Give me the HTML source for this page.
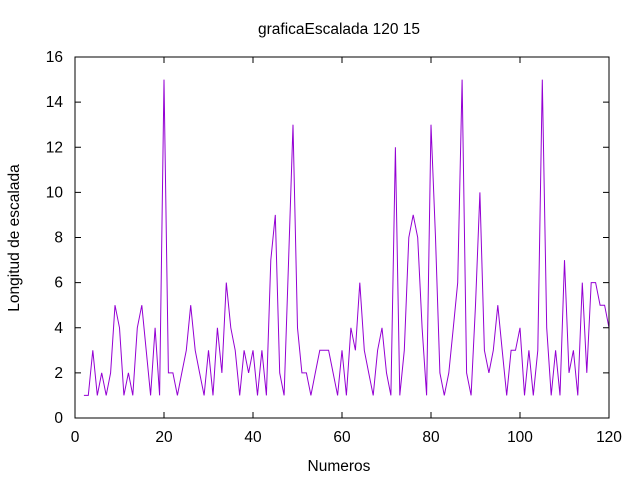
<!DOCTYPE html>
<html><head><meta charset="utf-8"><style>
body{margin:0;background:#fff}
svg{display:block;font-family:"Liberation Sans",sans-serif;font-size:15.5px}
</style></head><body>
<svg id="chart" width="640" height="480">
<text x="339" y="34" text-anchor="middle">graficaEscalada 120 15</text>
<text x="339" y="471" text-anchor="middle">Numeros</text>
<text transform="translate(19,238) rotate(-90)" text-anchor="middle">Longitud de escalada</text>
<g id="axes"></g>
<rect x="75" y="57" width="534" height="361" fill="none" stroke="#000" stroke-width="1"/>
</svg>
<script>
const xs = [];
for (let i = 2; i <= 120; i++) xs.push(i);
const values = [1,1,3,1,2,1,2,5,4,1,2,1,4,5,3,1,4,1,15,2,2,1,2,3,5,3,2,1,3,1,4,2,6,4,3,1,3,2,3,1,3,1,7,9,2,1,7,13,4,2,2,1,2,3,3,3,2,1,3,1,4,3,6,3,2,1,3,4,2,1,12,1,3,8,9,8,4,1,13,8,2,1,2,4,6,15,2,1,5,10,3,2,3,5,3,1,3,3,4,1,3,1,3,15,4,1,3,1,7,2,3,1,6,2,6,6,5,5,4];
const xTicks = [0,20,40,60,80,100,120];
const yTicks = [0,2,4,6,8,10,12,14,16];
const L=75,R=609,T=57,B=418;
const sx=v=>L+(v-0)/120*(R-L);
const sy=v=>B-(v-0)/16*(B-T);
const ns="http://www.w3.org/2000/svg";
const g=document.getElementById('axes');
function mk(tag,attrs){const e=document.createElementNS(ns,tag);for(const k in attrs)e.setAttribute(k,attrs[k]);g.appendChild(e);return e;}
xTicks.forEach(t=>{
  const x=sx(t);
  const a=mk('line',{x1:x,x2:x,y1:B,y2:B-6,stroke:'#000'});
  
  
  const b=mk('line',{x1:x,x2:x,y1:T,y2:T+6,stroke:'#000'});
  
  
  const l=mk('text',{x:x,y:442,'text-anchor':'middle'});
  l.textContent=t;
  
  
});
yTicks.forEach(t=>{
  const y=sy(t);
  const a=mk('line',{x1:L,x2:L+6,y1:y,y2:y,stroke:'#000'});
  
  
  const b=mk('line',{x1:R,x2:R-6,y1:y,y2:y,stroke:'#000'});
  
  
  const l=mk('text',{x:63,y:y+5,'text-anchor':'end'});
  l.textContent=t;
  
  
});
const pts=xs.map((x,i)=>sx(x).toFixed(1)+','+sy(values[i]).toFixed(1)).join(' ');
const line=mk('polyline',{points:pts,fill:'none',stroke:'#9400d3','stroke-width':1});


</script>
</body></html>
